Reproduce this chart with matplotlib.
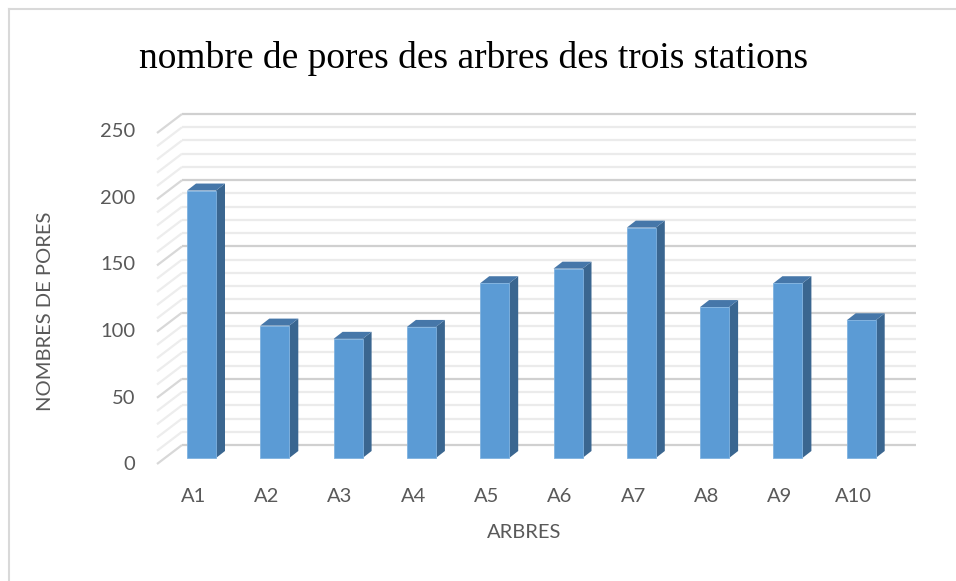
import matplotlib
matplotlib.use("Agg")
import matplotlib.pyplot as plt
from matplotlib.patches import Polygon
from matplotlib.lines import Line2D

# data
arbres = ["A1", "A2", "A3", "A4", "A5", "A6", "A7", "A8", "A9", "A10"]
nb_pores = [202, 100, 90, 99, 132, 143, 174, 114, 132, 104]
y_ticks = [0, 50, 100, 150, 200, 250]

W, H = 956, 581
fig = plt.figure(figsize=(W / 100, H / 100), dpi=100)
ax = fig.add_axes([0, 0, 1, 1])

# pixel layout of the bar front plane: category 0 at x=201.5px, 73.3px per category,
# value 0 at y=458px, 1.324px per unit
px_cat = 73.3
px_val = 1.324
x0_px, y0_px = 201.5, 458
ax.set_xlim(-x0_px / px_cat, (W - x0_px) / px_cat)
ax.set_ylim((y0_px - H) / px_val, y0_px / px_val)
ax.axis("off")

# depth offsets (in data units)
wall_fx, wall_fy = -5 / px_cat, -6 / px_val     # wall front plane
wall_bx, wall_by = 20 / px_cat, 13 / px_val     # back wall plane
bar_dx, bar_dy = 9 / px_cat, 7 / px_val         # bar depth
bar_w = 29 / px_cat

x_left_front = (157 - x0_px) / px_cat
x_left_back = x_left_front + (wall_bx - wall_fx)
x_right_back = (916 - x0_px) / px_cat

# walls: gridlines every 10, major every 50
for v in range(0, 251, 10):
    major = v % 50 == 0
    c_back = "#d0d0d0" if major else "#ebebeb"
    c_side = "#d8d8d8" if major else "#ededed"
    ax.plot([x_left_back, x_right_back], [v + wall_by, v + wall_by],
            color=c_back, lw=1.6, solid_capstyle="butt", zorder=1)
    ax.plot([x_left_front, x_left_back], [v + wall_fy, v + wall_by],
            color=c_side, lw=1.6, solid_capstyle="butt", zorder=1)

# bars
front_c, top_c, side_c = "#5b9bd5", "#4677a9", "#3a6690"
for i, v in enumerate(nb_pores):
    xl, xr = i - bar_w / 2, i + bar_w / 2
    side = Polygon([(xr, 0), (xr + bar_dx, bar_dy), (xr + bar_dx, v + bar_dy), (xr, v)],
                   closed=True, fc=side_c, ec="none", zorder=3)
    top = Polygon([(xl, v), (xr, v), (xr + bar_dx, v + bar_dy), (xl + bar_dx, v + bar_dy)],
                  closed=True, fc=top_c, ec="none", zorder=3)
    ax.add_patch(side)
    ax.add_patch(top)
ax.bar(range(len(nb_pores)), nb_pores, width=bar_w, color=front_c,
       edgecolor="#7fb2e0", linewidth=0.6, zorder=4)

# tick labels
tick_font = dict(family="Lato", fontsize=14.5, color="#595959")
for v in y_ticks:
    ax.text((135 - x0_px) / px_cat, v * 1.334 / px_val + wall_fy - 1 / px_val, str(v),
            ha="right", va="center", **tick_font)
for i, lab in enumerate(arbres):
    ax.text(i - 8 / px_cat, (y0_px - 496) / px_val, lab, ha="center", va="center", **tick_font)

fig.text(524 / W, 1 - 533 / H, "ARBRES", ha="center", va="center", **tick_font)
fig.text(46 / W, 1 - 311 / H, "NOMBRES DE PORES", ha="center", va="center",
         rotation=90, **tick_font)
fig.text(474 / W, 1 - 68 / H, "nombre de pores des arbres des trois stations",
         ha="center", va="baseline", family="Liberation Serif", fontsize=27, color="black")

# chart border (left and top visible)
fig.add_artist(Line2D([8.5 / W, 8.5 / W], [0, 1 - 8.5 / H], transform=fig.transFigure,
                      color="#d9d9d9", lw=1.5))
fig.add_artist(Line2D([8.5 / W, 1], [1 - 8.5 / H, 1 - 8.5 / H], transform=fig.transFigure,
                      color="#d9d9d9", lw=1.5))

fig.savefig("out.png", dpi=100)
